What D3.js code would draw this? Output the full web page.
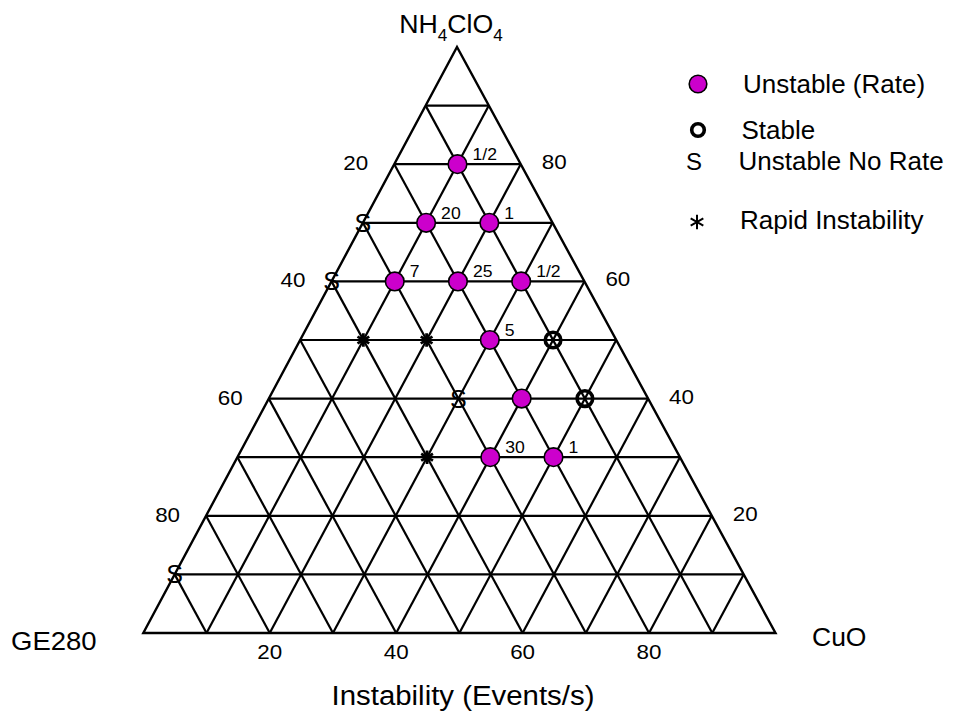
<!DOCTYPE html>
<html>
<head>
<meta charset="utf-8">
<script src="https://cdn.jsdelivr.net/npm/d3@7"></script>
<style>
  html, body { margin: 0; padding: 0; background: #fff; }
  svg { display: block; font-family: "Liberation Sans", Arial, sans-serif; }
</style>
</head>
<body>
<svg id="chart" width="957" height="713"></svg>
<script>
// ---------------- DATA ----------------
// compositions in % : NH4ClO4 (apex), CuO (bottom-right); GE280 = 100 - both
const ticks = [20, 40, 60, 80];
const gridSteps = [10, 20, 30, 40, 50, 60, 70, 80, 90];

const unstableRateNH  = [80, 70, 70, 60, 60, 60, 50, 40, 30, 30];
const unstableRateCuO = [10, 10, 20, 10, 20, 30, 30, 40, 40, 50];
const unstableRateLbl = ["1/2", "20", "1", "7", "25", "1/2", "5", "", "30", "1"];

const stableNH  = [50, 40];
const stableCuO = [40, 50];

const noRateNH  = [70, 60, 40, 10];
const noRateCuO = [0, 0, 30, 0];

const rapidNH  = [50, 50, 30];
const rapidCuO = [10, 20, 30];

const legendLabels = ["Unstable (Rate)", "Stable", "Unstable No Rate", "Rapid Instability"];
const cornerLeft = "GE280", cornerRight = "CuO";
const titleText = "Instability (Events/s)";

// ---------------- LAYOUT ----------------
const svg = d3.select("#chart");
const BL = [143.3, 633], BR = [775.5, 633], AP = [457, 47];

const yScale = d3.scaleLinear().domain([0, 100]).range([BL[1], AP[1]]);       // NH4ClO4 -> y
const cuoX = d3.scaleLinear().domain([0, 100]).range([0, BR[0] - BL[0]]);      // CuO -> x shift
const nhX  = d3.scaleLinear().domain([0, 100]).range([0, AP[0] - BL[0]]);      // NH4ClO4 -> x shift

function pos(nh, cuo) {
  return [BL[0] + cuoX(cuo) + nhX(nh), yScale(nh)];
}

const ink = "#000";
const gridG = svg.append("g");

// grid lines
const segs = [];
gridSteps.forEach(v => {
  segs.push([pos(v, 0), pos(v, 100 - v)]);          // constant NH4ClO4
  segs.push([pos(0, v), pos(100 - v, v)]);          // constant CuO
  segs.push([pos(0, 100 - v), pos(100 - v, 0)]);    // constant GE280
});
gridG.selectAll("line.grid").data(segs).join("line")
  .attr("class", "grid")
  .attr("x1", d => d[0][0]).attr("y1", d => d[0][1])
  .attr("x2", d => d[1][0]).attr("y2", d => d[1][1])
  .attr("stroke", ink).attr("stroke-width", 2.2);

// outer triangle
gridG.append("path")
  .attr("d", d3.line()([pos(0, 0), pos(0, 100), pos(100, 0)]) + "Z")
  .attr("fill", "none").attr("stroke", ink).attr("stroke-width", 2.4)
  .attr("stroke-linejoin", "miter");

// helper for horizontally stretched text
function txt(g, x, y, s, size, sx, anchor) {
  return g.append("text")
    .attr("transform", `translate(${x},${y}) scale(${sx},1)`)
    .attr("font-size", size)
    .attr("text-anchor", anchor || "start")
    .attr("fill", ink)
    .text(s);
}

// tick labels
const tickG = svg.append("g");
ticks.forEach(v => {
  // left side: GE280 value (left edge, NH4ClO4 = 100 - v)
  const pl = pos(100 - v, 0);
  txt(tickG, pl[0] - 26, pl[1] + 6, String(v), 20, 1.12, "end");
  // right side: NH4ClO4 value
  const pr = pos(v, 100 - v);
  txt(tickG, pr[0] + 21, pr[1] + 5, String(v), 20, 1.12, "start");
  // bottom: CuO value
  const pb = pos(0, v);
  txt(tickG, pb[0], pb[1] + 26, String(v), 20, 1.12, "middle");
});

// corner labels
const topLabel = svg.append("text")
  .attr("transform", `translate(451,33) scale(1.07,1)`)
  .attr("text-anchor", "middle").attr("font-size", 25).attr("fill", ink);
topLabel.append("tspan").text("NH");
topLabel.append("tspan").attr("font-size", 16).attr("dy", 8).text("4");
topLabel.append("tspan").attr("dy", -8).text("ClO");
topLabel.append("tspan").attr("font-size", 16).attr("dy", 8).text("4");

txt(svg, 11, 650, cornerLeft, 25, 1.1, "start");
txt(svg, 812, 646, cornerRight, 25, 1.06, "start");
txt(svg, 463, 705, titleText, 28, 1.05, "middle");

// ---------------- MARKERS ----------------
const markG = svg.append("g");
const magenta = "#cc00cc";

// Unstable no rate "S"
markG.selectAll("text.s").data(noRateNH.map((n, i) => pos(n, noRateCuO[i]))).join("text")
  .attr("class", "s")
  .attr("x", d => d[0]).attr("y", d => d[1])
  .attr("dy", "0.36em")
  .attr("text-anchor", "middle").attr("font-size", 25).attr("fill", ink)
  .text("S");

// Rapid instability asterisks
const ast = d3.symbol().type(d3.symbolAsterisk).size(130);
markG.selectAll("path.ast").data(rapidNH.map((n, i) => pos(n, rapidCuO[i]))).join("path")
  .attr("class", "ast")
  .attr("transform", d => `translate(${d[0]},${d[1]})`)
  .attr("d", ast)
  .attr("fill", "none").attr("stroke", ink).attr("stroke-width", 2.8);

// Stable rings
markG.selectAll("circle.stable").data(stableNH.map((n, i) => pos(n, stableCuO[i]))).join("circle")
  .attr("class", "stable")
  .attr("cx", d => d[0]).attr("cy", d => d[1]).attr("r", 7.8)
  .attr("fill", "none").attr("stroke", ink).attr("stroke-width", 3.6);

// Unstable (rate) circles + labels
const rateData = unstableRateNH.map((n, i) => ({ p: pos(n, unstableRateCuO[i]), lbl: unstableRateLbl[i] }));
markG.selectAll("circle.rate").data(rateData).join("circle")
  .attr("class", "rate")
  .attr("cx", d => d.p[0]).attr("cy", d => d.p[1]).attr("r", 9.3)
  .attr("fill", magenta).attr("stroke", ink).attr("stroke-width", 1.6);
markG.selectAll("text.rate").data(rateData).join("text")
  .attr("class", "rate")
  .attr("transform", d => `translate(${d.p[0] + 15},${d.p[1] - 4}) scale(1.1,1)`)
  .attr("font-size", 16).attr("fill", ink)
  .text(d => d.lbl);

// ---------------- LEGEND ----------------
const legG = svg.append("g");
const legY = [84, 130, 163, 222];
const legTextX = [743, 741.5, 738.5, 740];
const legBase = [93, 139, 170, 229];

legG.append("circle").attr("cx", 698).attr("cy", legY[0]).attr("r", 8.8)
  .attr("fill", magenta).attr("stroke", ink).attr("stroke-width", 1.6);
legG.append("circle").attr("cx", 698).attr("cy", legY[1]).attr("r", 6.3)
  .attr("fill", "none").attr("stroke", ink).attr("stroke-width", 3.6);
legG.append("text").attr("x", 694).attr("y", legBase[2]).attr("text-anchor", "middle")
  .attr("font-size", 24).attr("fill", ink).text("S");
legG.append("path").attr("transform", `translate(697,${legY[3]})`)
  .attr("d", d3.symbol().type(d3.symbolAsterisk).size(150))
  .attr("fill", "none").attr("stroke", ink).attr("stroke-width", 2);

legendLabels.forEach((s, i) => {
  txt(legG, legTextX[i], legBase[i], s, 25, 1.04, "start");
});
</script>
</body>
</html>
